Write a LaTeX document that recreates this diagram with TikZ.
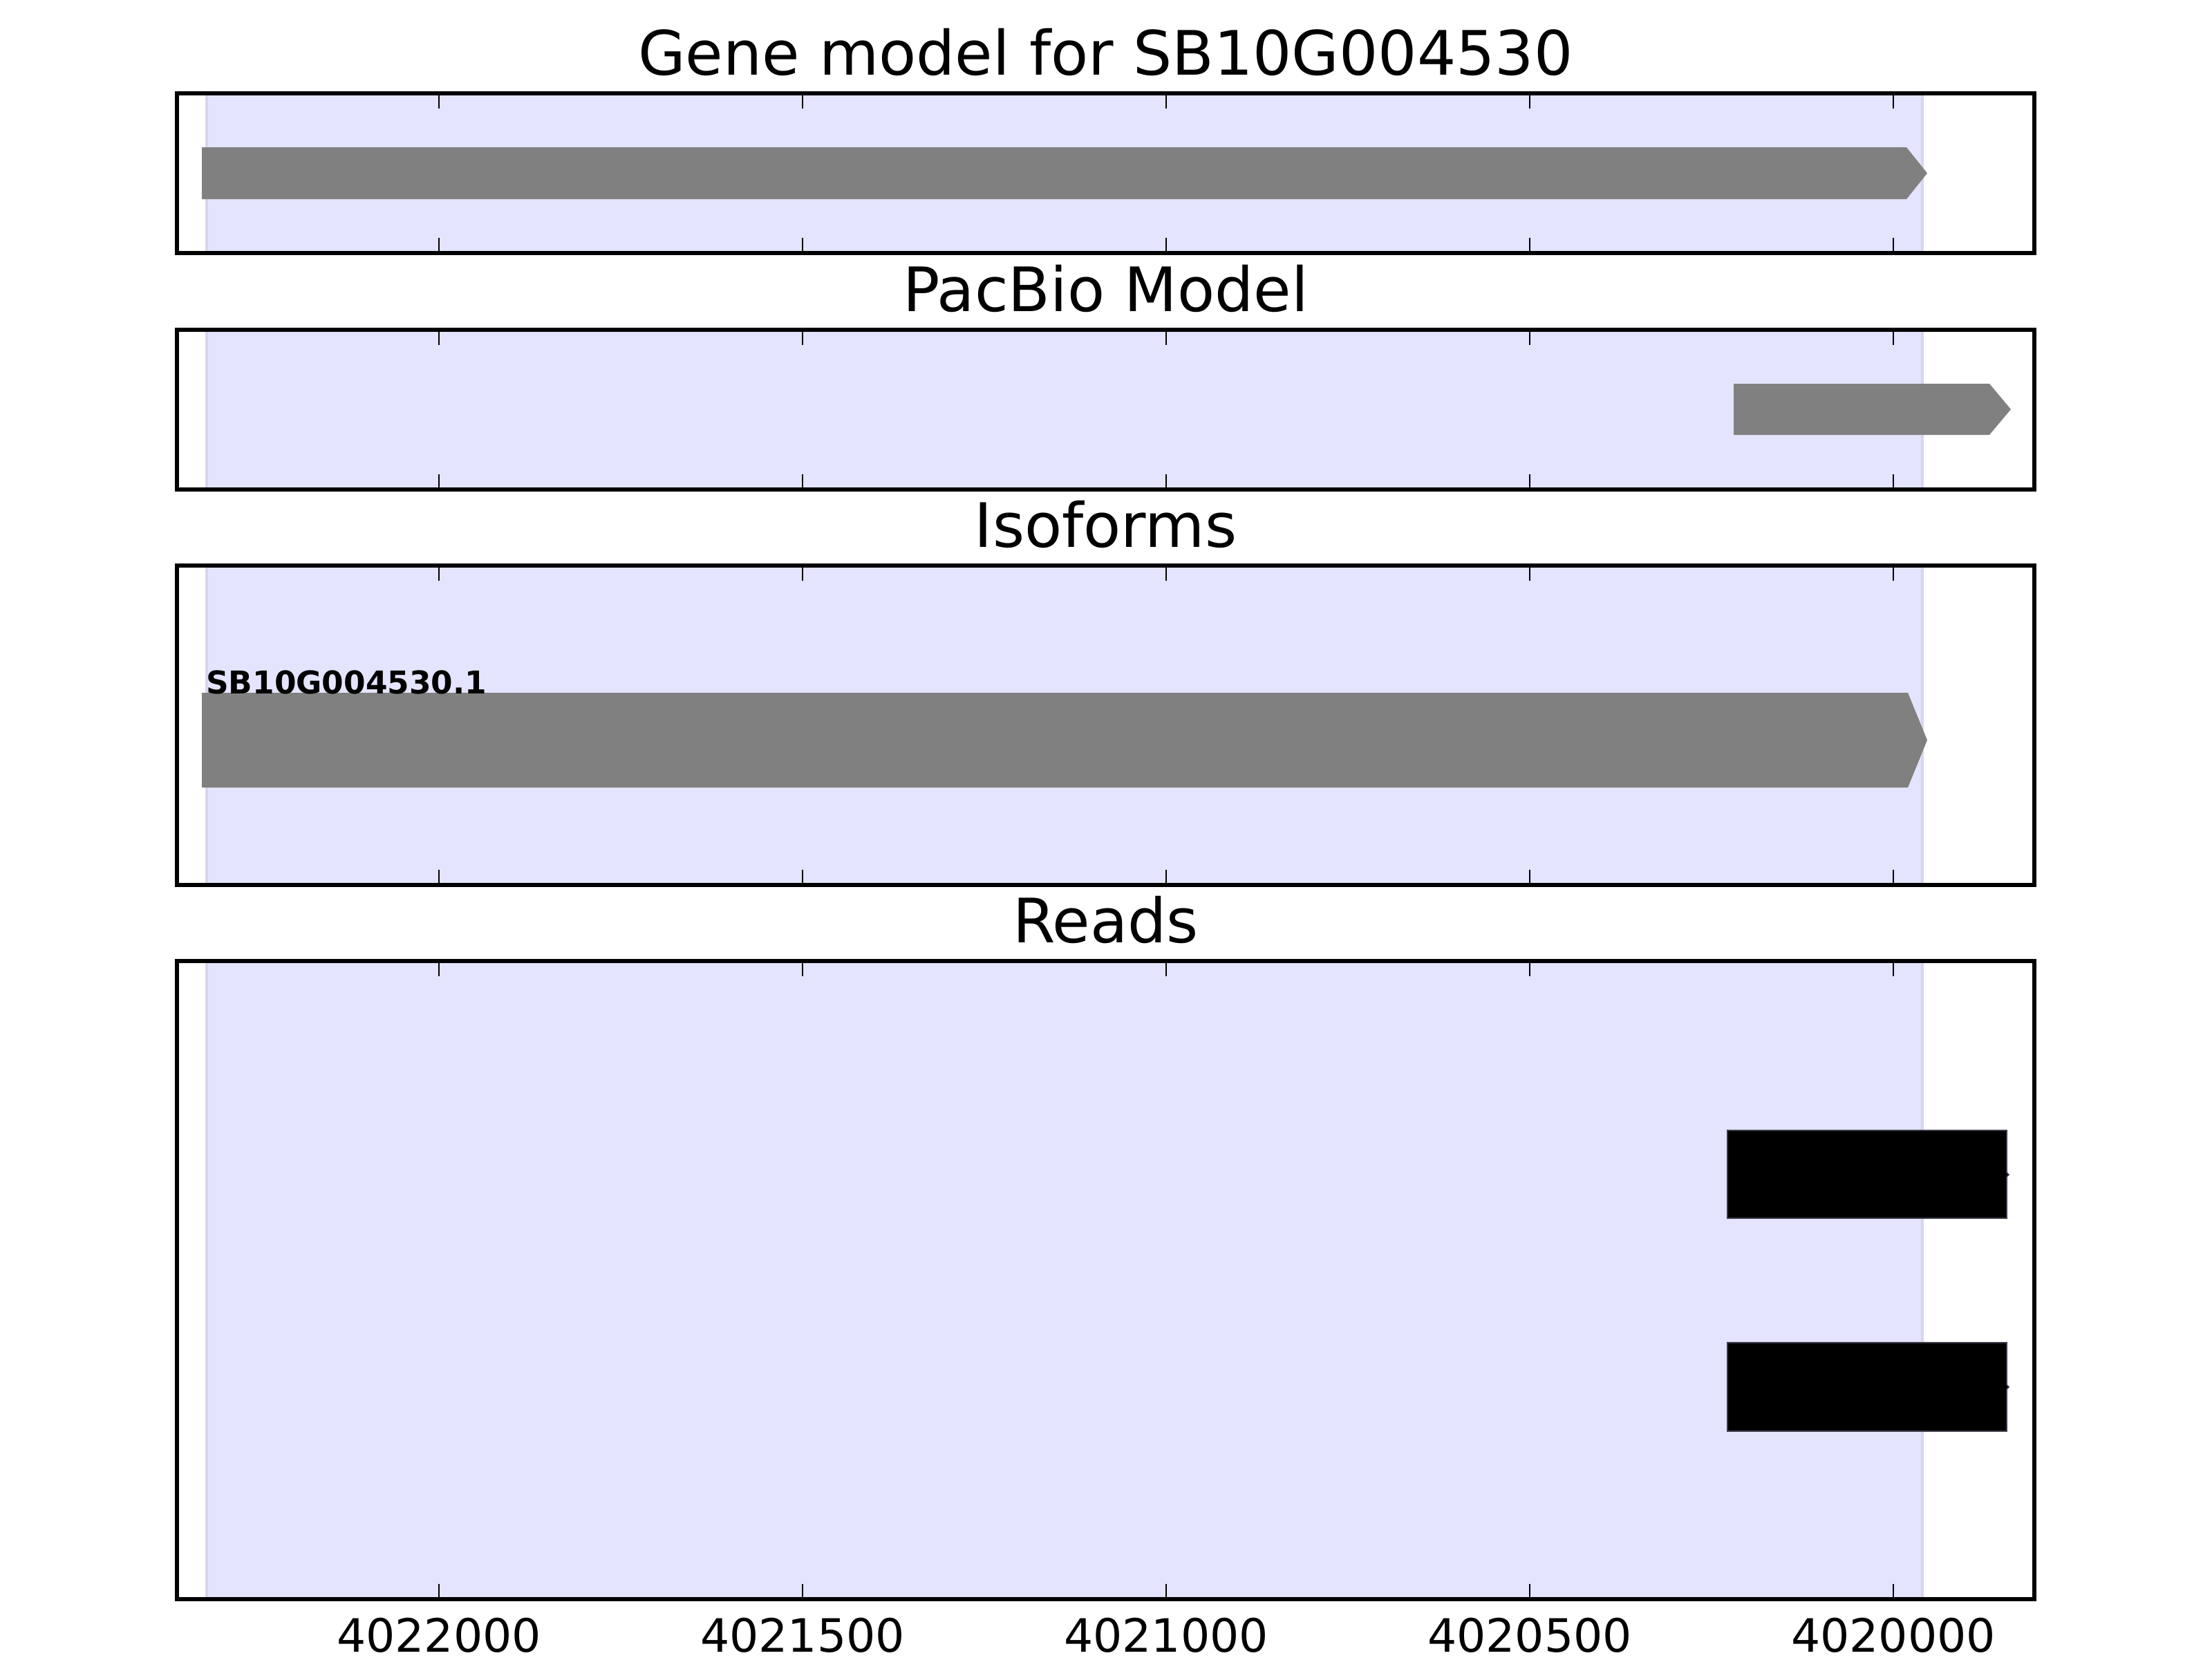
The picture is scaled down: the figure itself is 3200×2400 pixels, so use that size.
\documentclass[tikz,border=0pt]{standalone}
\usepackage{fontspec}
\setmainfont{DejaVu Sans}

\begin{document}
\begin{tikzpicture}[x=0.00635cm,y=-0.00635cm,
  panel/.style={draw=black,line width=1pt},
  tickmark/.style={draw=black,line width=0.5pt},
  span/.style={fill={rgb,255:red,228;green,228;blue,255},draw={rgb,255:red,214;green,214;blue,238},line width=0.8pt},
  model/.style={fill=gray},
  read/.style={fill=black,draw={rgb,255:red,60;green,60;blue,75},line width=0.3pt},
  paneltitle/.style={anchor=base,inner sep=0pt,font=\fontsize{16}{19}\selectfont},
  ticklabel/.style={anchor=base,inner sep=0pt,font=\fontsize{12}{14}\selectfont},
  isolabel/.style={anchor=base west,inner sep=0pt,font=\bfseries\fontsize{8.2}{10}\selectfont}]

\useasboundingbox (0,0) rectangle (3200,2400);

% shaded gene span in every panel
  \path[span] (299,135) rectangle (2781,366);
  \path[span] (299,477) rectangle (2781,708);
  \path[span] (299,818) rectangle (2781,1280);
  \path[span] (299,1390) rectangle (2781,2313);

% define the models and reads
  \fill[model] (292,213) -- (2758,213) -- (2788,250.5) -- (2758,288) -- (292,288) -- cycle;
  \fill[model] (2508,555) -- (2878,555) -- (2909,592) -- (2878,629) -- (2508,629) -- cycle;
  \fill[model] (292,1002) -- (2760,1002) -- (2788,1070.5) -- (2760,1139) -- (292,1139) -- cycle;
  \path[read] (2499,1635) -- (2903,1635) -- (2903,1696) -- (2906,1699) -- (2903,1702)
       -- (2903,1762) -- (2499,1762) -- cycle;
  \path[read] (2499,1942) -- (2903,1942) -- (2903,2003) -- (2906,2006) -- (2903,2009)
       -- (2903,2070) -- (2499,2070) -- cycle;
  \node[isolabel] (iso1) at (297,1003) {SB10G004530.1};

% define the panels
  \draw[panel] (256,135) rectangle (2943,366);
  \draw[panel] (256,477) rectangle (2943,708);
  \draw[panel] (256,818) rectangle (2943,1280);
  \draw[panel] (256,1390) rectangle (2943,2313);

  \foreach \top/\bot in {135/366, 477/708, 818/1280, 1390/2313}
    \foreach \x in {635,1161,1687,2213,2739} {
      \draw[tickmark] (\x,\top) -- ++(0,22);
      \draw[tickmark] (\x,\bot) -- ++(0,-22);
    }

% titles and axis labels
  \node[paneltitle] (genetitle) at (1599.5,108) {Gene model for SB10G004530};
  \node[paneltitle] (pacbiotitle) at (1599.5,450) {PacBio Model};
  \node[paneltitle] (isotitle) at (1599.5,791) {Isoforms};
  \node[paneltitle] (readstitle) at (1599.5,1363) {Reads};

  \node[ticklabel] (x1) at (635,2389) {4022000};
  \node[ticklabel] (x2) at (1161,2389) {4021500};
  \node[ticklabel] (x3) at (1687,2389) {4021000};
  \node[ticklabel] (x4) at (2213,2389) {4020500};
  \node[ticklabel] (x5) at (2739,2389) {4020000};

\end{tikzpicture}
\end{document}
